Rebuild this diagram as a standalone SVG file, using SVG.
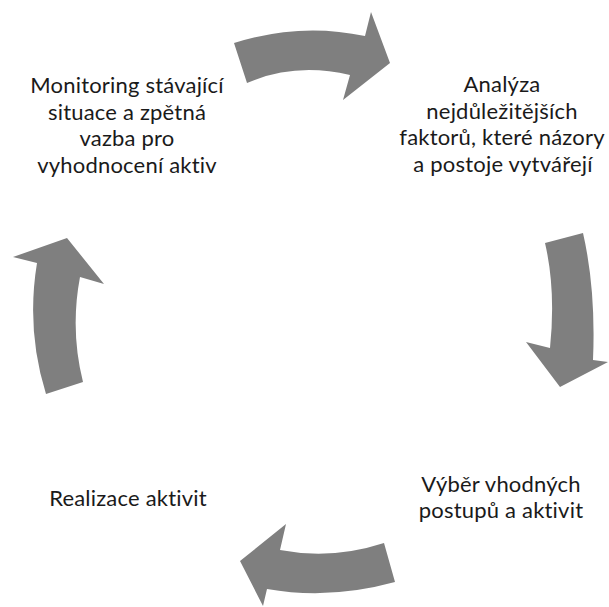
<svg xmlns="http://www.w3.org/2000/svg" width="609" height="607" viewBox="0 0 609 607">
  <style>
    .label { font-family: Lato, "Open Sans", "Liberation Sans", sans-serif; font-size: 22px; letter-spacing: 0.2px; fill: #1a1a1a; text-anchor: middle; }
    .arrow { fill: #7f7f7f; stroke: none; }
  </style>
  <rect width="609" height="607" fill="#ffffff"/>

  <!-- curved block arrows forming the cycle -->
  <g id="connectors">
    <!-- top: left to right -->
    <path class="arrow" d="M234,43 Q300,22 365,36 L371,12 L390,63 L343,100 L350,75 Q295,62 247,83 Z"/>
    <!-- right: downward -->
    <path class="arrow" d="M583,233 Q596,290 593,360 L608,362 L560,387 L526,342 L550,348 Q556,290 545,243 Z"/>
    <!-- bottom: right to left -->
    <path class="arrow" d="M395,582 Q330,600 267,589 L263,606 L240,561 L286,524 L280,550 Q332,560 384,543 Z"/>
    <!-- left: upward -->
    <path class="arrow" d="M46,394 Q26,330 37,263 L13,257 L67,238 L104,284 L80,277 Q70,330 83,382 Z"/>
  </g>

  <g id="node-analyza">
    <text class="label" x="502" y="92">Analýza</text>
    <text class="label" x="502" y="118.5">nejdůležitějších</text>
    <text class="label" x="502" y="145">faktorů, které názory</text>
    <text class="label" x="503" y="171.5">a postoje vytvářejí</text>
  </g>

  <g id="node-vyber">
    <text class="label" x="501" y="491.5">Výběr vhodných</text>
    <text class="label" x="501" y="518">postupů a aktivit</text>
  </g>

  <g id="node-realizace">
    <text class="label" x="128" y="506">Realizace aktivit</text>
  </g>

  <g id="node-monitoring">
    <text class="label" x="127" y="93">Monitoring stávající</text>
    <text class="label" x="127" y="119.5">situace a zpětná</text>
    <text class="label" x="127" y="146">vazba pro</text>
    <text class="label" x="127" y="172.5">vyhodnocení aktiv</text>
  </g>
</svg>
